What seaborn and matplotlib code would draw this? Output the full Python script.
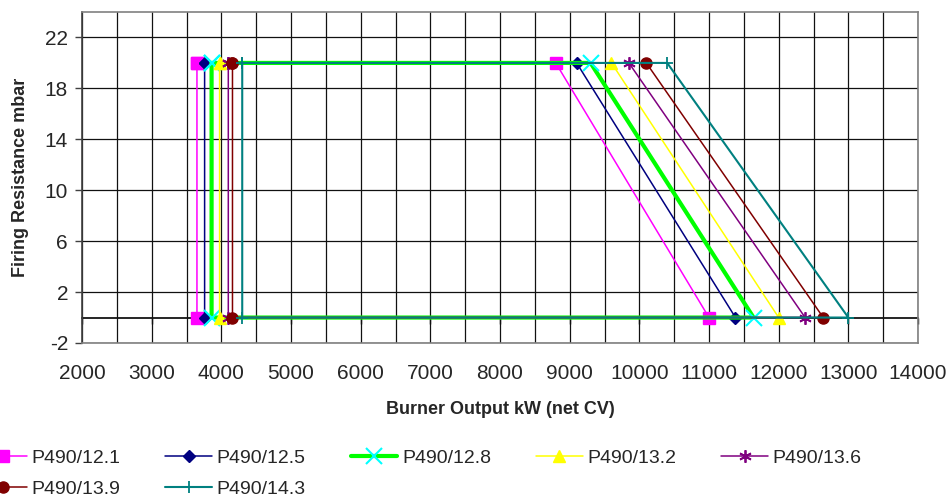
import numpy as np
import pandas as pd
import matplotlib
matplotlib.use("Agg")
import matplotlib.pyplot as plt
import seaborn as sns

# --- data ---
series = ["P490/12.1", "P490/12.5", "P490/12.8", "P490/13.2",
          "P490/13.6", "P490/13.9", "P490/14.3"]
min_output = [3650, 3760, 3860, 3975, 4100, 4160, 4300]          # left edge
max_output_top = [8800, 9100, 9300, 9600, 9850, 10100, 10400]     # at 20 mbar
max_output_bottom = [11000, 11380, 11640, 12000, 12380, 12640, 13000]  # at 0 mbar
res_high = 20
res_low = 0

x_ticks = list(range(2000, 14001, 1000))
y_ticks = list(range(-2, 23, 4))

# closed outline for every burner: top-left -> top-right -> bottom-right -> bottom-left -> back
rows = []
for name, xl, xt, xb in zip(series, min_output, max_output_top, max_output_bottom):
    path = [(xl, res_high), (xt, res_high), (xb, res_low), (xl, res_low), (xl, res_high)]
    for i, (px, py) in enumerate(path):
        rows.append({"series": name, "step": i, "output": px, "resistance": py})
df = pd.DataFrame(rows)

styles = {
    "P490/12.1": dict(color="#FF00FF", marker="s", ms=8, mfc="#FF00FF", mec="#FF00FF", lw=1.1),
    "P490/12.5": dict(color="#000080", marker="D", ms=6.5, mfc="#000080", mec="#000080", lw=1.1),
    "P490/12.8": dict(color="#00FF00", marker="x", ms=12, mfc="#00FFFF", mec="#00FFFF", mew=1.5, lw=3),
    "P490/13.2": dict(color="#FFFF00", marker="^", ms=8, mfc="#FFFF00", mec="#FFFF00", lw=1.1),
    "P490/13.6": dict(color="#800080", marker=(6, 2, 0), ms=9, mfc="#800080", mec="#800080", mew=1.3, lw=1.1),
    "P490/13.9": dict(color="#800000", marker="o", ms=8, mfc="#800000", mec="#800000", lw=1.1),
    "P490/14.3": dict(color="#008080", marker="+", ms=8, mfc="#008080", mec="#008080", mew=1.3, lw=1.5),
}

sns.set_style("white")
plt.rcParams["font.family"] = ["Liberation Sans", "DejaVu Sans"]
plt.rcParams["axes.unicode_minus"] = False

fig = plt.figure(figsize=(9.5, 5), dpi=100)
ax = fig.add_axes([82 / 950, 1 - 343 / 500, 836 / 950, 331 / 500])

for name in series:
    st = styles[name]
    sub = df[df["series"] == name]
    sns.lineplot(data=sub, x="output", y="resistance", sort=False, estimator=None,
                 ax=ax, label=name, color=st["color"], linewidth=st["lw"],
                 marker=st["marker"], markersize=st["ms"], markerfacecolor=st["mfc"],
                 markeredgecolor=st["mec"], markeredgewidth=st.get("mew", 1.0), zorder=3)

ax.set_xlim(2000, 14000)
ax.set_ylim(-2, 24)
ax.set_xticks(x_ticks)
ax.set_xticks(np.arange(2500, 14000, 1000), minor=True)
ax.set_yticks(y_ticks)
ax.grid(True, which="both", color="#111111", linewidth=0.9)
ax.set_axisbelow(True)
for sp in ax.spines.values():
    sp.set_color("#808080")
    sp.set_linewidth(1.2)
ax.spines["left"].set_color("#404040")

ax.tick_params(axis="x", which="both", length=0, pad=15, labelsize=15)
ax.tick_params(axis="y", length=5, width=1, color="#404040", direction="out", pad=5,
               labelsize=15, left=True)

# axis line at zero with its small tick marks
zero_axis = ax.secondary_xaxis(0, transform=ax.transData)
zero_axis.set_xticks(x_ticks)
zero_axis.set_xticklabels([])
zero_axis.tick_params(length=4, width=1, color="#000000", direction="out")
zero_axis.spines["bottom"].set_color("#000000")
zero_axis.spines["bottom"].set_linewidth(1.2)

ax.set_xlabel("Burner Output kW (net CV)", fontsize=13, fontweight="bold")
ax.set_ylabel("Firing Resistance mbar", fontsize=13, fontweight="bold", va="center")
ax.xaxis.set_label_coords(0.5, -0.175)
ax.yaxis.set_label_coords(-0.073, 0.5)

# legend filled row by row (matplotlib fills by column)
handles, labels = ax.get_legend_handles_labels()
ax.get_legend().remove()
order = [0, 5, 1, 6, 2, 3, 4]
fig.legend([handles[i] for i in order], [labels[i] for i in order], ncol=5,
           loc="upper left", bbox_to_anchor=(-0.021, 0.102),
           frameon=False, fontsize=14, handlelength=2.4, handletextpad=0.25,
           columnspacing=2.3, borderpad=0, borderaxespad=0, labelspacing=0.72)

fig.savefig("out.png", dpi=100)
